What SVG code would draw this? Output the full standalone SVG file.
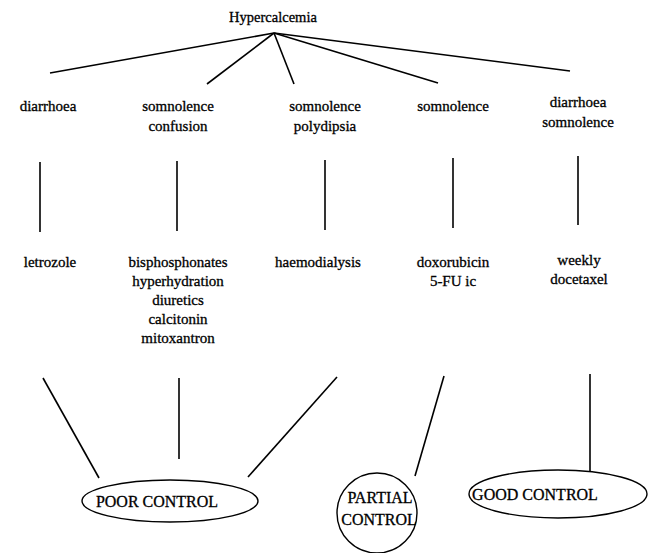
<svg xmlns="http://www.w3.org/2000/svg" width="657" height="553" viewBox="0 0 657 553">
<style>
text{font-family:"Liberation Serif","Times New Roman","DejaVu Serif",serif;font-size:15px;fill:#000;stroke:#000;stroke-width:0.3;text-anchor:middle}
.big{font-size:16px}
.c line{stroke:#000;stroke-width:1.6;fill:none}
.shape{fill:#fff;stroke:#000;stroke-width:1.4}
</style>
<rect width="657" height="553" fill="#fff"/>
<g class="c" id="connectors">
<line x1="274" y1="33" x2="50" y2="73"/>
<line x1="274" y1="33" x2="207" y2="84"/>
<line x1="274" y1="33" x2="294" y2="84"/>
<line x1="274" y1="33" x2="438" y2="83"/>
<line x1="274" y1="33" x2="570" y2="71"/>
<line x1="40" y1="162" x2="40" y2="232"/>
<line x1="177" y1="161" x2="177" y2="231"/>
<line x1="325" y1="160" x2="325" y2="230"/>
<line x1="453" y1="158" x2="453" y2="228"/>
<line x1="578" y1="156" x2="578" y2="225"/>
<line x1="43" y1="378" x2="99" y2="478"/>
<line x1="179" y1="378" x2="179" y2="459"/>
<line x1="337" y1="377" x2="248" y2="477"/>
<line x1="444" y1="376" x2="415" y2="476"/>
<line x1="590" y1="374" x2="590" y2="473"/>
</g>
<g id="hypercalcemia"><text x="273" y="22" style="font-size:14.5px">Hypercalcemia</text></g>
<g id="s1"><text x="48" y="111">diarrhoea</text></g>
<g id="s2"><text x="178" y="111">somnolence</text><text x="178" y="131">confusion</text></g>
<g id="s3"><text x="325" y="111">somnolence</text><text x="325" y="131">polydipsia</text></g>
<g id="s4"><text x="453" y="111">somnolence</text></g>
<g id="s5"><text x="578" y="107">diarrhoea</text><text x="578" y="127">somnolence</text></g>
<g id="t1"><text x="50" y="267">letrozole</text></g>
<g id="t2"><text x="178" y="267">bisphosphonates</text><text x="178" y="286">hyperhydration</text><text x="178" y="305">diuretics</text><text x="178" y="324">calcitonin</text><text x="178" y="343">mitoxantron</text></g>
<g id="t3"><text x="318" y="267">haemodialysis</text></g>
<g id="t4"><text x="453" y="267">doxorubicin</text><text x="453" y="286">5-FU ic</text></g>
<g id="t5"><text x="579" y="265">weekly</text><text x="579" y="284">docetaxel</text></g>
<g id="poor"><ellipse class="shape" cx="170" cy="501" rx="88" ry="21"/><text class="big" x="157" y="507">POOR CONTROL</text></g>
<g id="partial"><circle class="shape" cx="377" cy="513" r="40"/><text class="big" x="380" y="503">PARTIAL</text><text class="big" x="379" y="525">CONTROL</text></g>
<g id="good"><ellipse class="shape" cx="558" cy="494" rx="89" ry="24"/><text class="big" x="535" y="500">GOOD CONTROL</text></g>
</svg>
